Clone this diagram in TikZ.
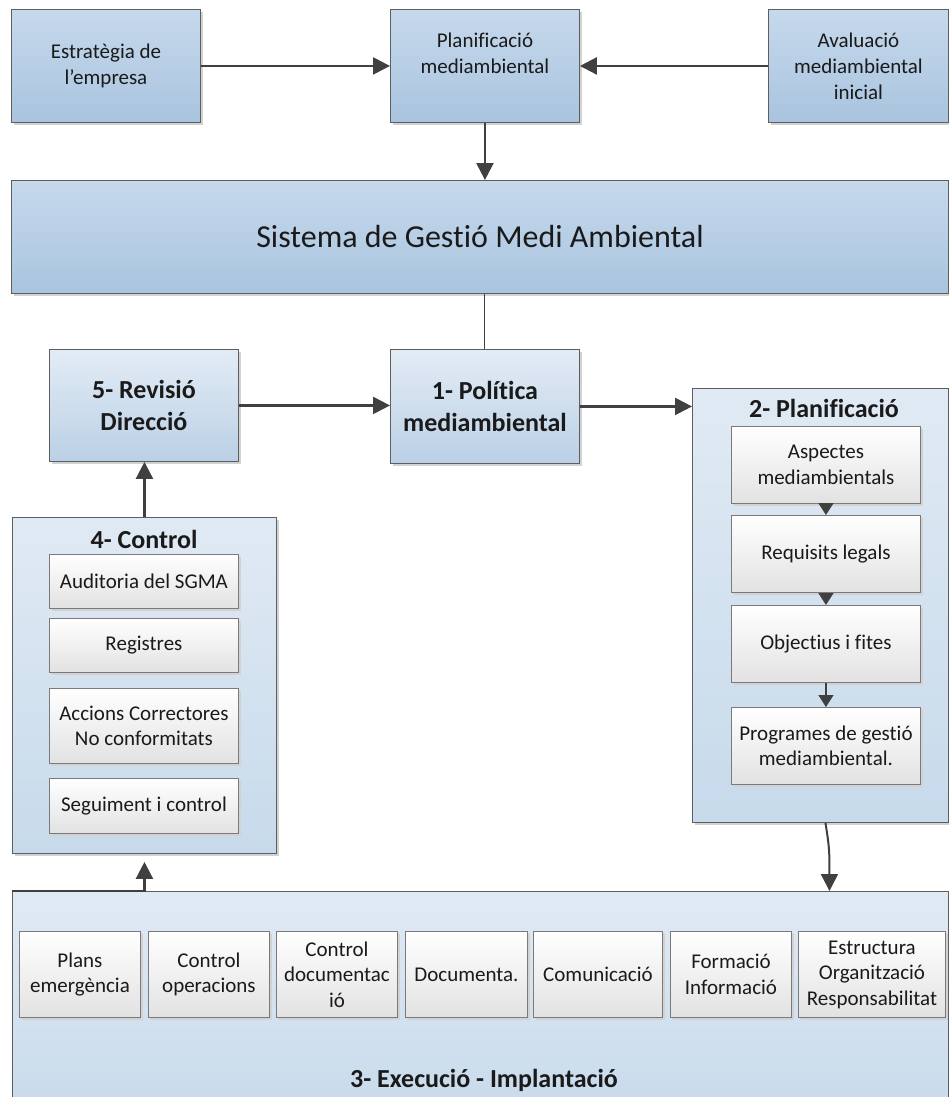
\documentclass[tikz,border=0pt]{standalone}
\usepackage{fontspec}
\setmainfont{Carlito}[Ligatures=NoCommon]
\usetikzlibrary{arrows.meta,shadows,calc}

\definecolor{edge}{HTML}{5E5E5E}
\definecolor{itemedge}{HTML}{7A7A7A}
\definecolor{arrowc}{HTML}{404040}
\definecolor{txt}{HTML}{1A1A1A}
\definecolor{topA}{HTML}{C6D9EC}
\definecolor{topB}{HTML}{A9C4DF}
\definecolor{stA}{HTML}{E3ECF5}
\definecolor{stB}{HTML}{BAD0E6}
\definecolor{grA}{HTML}{E0EAF4}
\definecolor{grB}{HTML}{C7DAEB}
\definecolor{itB}{HTML}{E2E2E2}
\definecolor{shade}{HTML}{D2D2D2}

\tikzset{
  base/.style={draw=edge, line width=0.9pt, inner sep=1pt, align=center, text=txt,
    drop shadow={shadow xshift=3pt, shadow yshift=-3pt, fill=shade, opacity=1}},
  topbox/.style={base, top color=topA, bottom color=topB,
    font=\fontsize{21}{26}\selectfont},
  bigbox/.style={base, top color=topA, bottom color=topB,
    font=\fontsize{32}{38}\selectfont},
  stagebox/.style={base, top color=stA, bottom color=stB,
    font=\fontsize{26}{32}\selectfont\bfseries},
  groupbox/.style={base, top color=grA, bottom color=grB},
  itembox/.style={base, draw=itemedge, top color=white, bottom color=itB,
    drop shadow={shadow xshift=2pt, shadow yshift=-2pt, fill=shade, opacity=0.8},
    font=\fontsize{21}{25.5}\selectfont},
  grouptitle/.style={font=\fontsize{26}{32}\selectfont\bfseries, text=txt, inner sep=0pt},
  arr/.style={draw=arrowc, line width=2.3pt, -{Triangle[length=17pt,width=17pt]}},
  thinarr/.style={draw=arrowc, line width=1.6pt, -{Triangle[length=12pt,width=15pt]}},
  link/.style={draw=arrowc, line width=1pt},
}

% box given by its top-left and bottom-right corners
\newcommand\boxat[7]{%
  \node[#1, anchor=north west, minimum width={(#5-#3)*1pt},
        minimum height={(#6-#4)*1pt}] (#2) at (#3,#4) {#7};}

\begin{document}
\begin{tikzpicture}[x=1pt, y=-1pt]
\clip (0,0) rectangle (949,1097);
\fill[white] (0,0) rectangle (949,1097);

% top row
\boxat{topbox}{estr}{11}{9}{200}{122}{Estratègia de\\l’empresa}
\boxat{topbox}{plan}{390}{9}{579}{122}{Planificació\\mediambiental\\\mbox{}}
\boxat{topbox}{aval}{768}{9}{948}{122}{Avaluació\\mediambiental\\inicial}

% management system bar
\boxat{bigbox}{sist}{11}{180}{948}{293}{Sistema de Gestió Medi Ambiental}

% stages
\boxat{stagebox}{rev}{49}{349}{238}{461}{5- Revisió\\Direcció}
\boxat{stagebox}{pol}{390}{349}{579}{463}{1- Política\\mediambiental}

% 2- Planificació
\boxat{groupbox}{plantwo}{692}{388}{948}{822}{}
\node[grouptitle] (plantwot) at (824,408) {2- Planificació};
\boxat{itembox}{asp}{731}{426}{920}{503}{Aspectes\\mediambientals}
\boxat{itembox}{req}{731}{515}{920}{592}{Requisits legals}
\boxat{itembox}{obj}{731}{605}{920}{682}{Objectius i fites}
\boxat{itembox}{prog}{731}{707}{920}{784}{Programes de gestió\\mediambiental.}

% 4- Control
\boxat{groupbox}{ctrl}{12}{517}{276}{853}{}
\node[grouptitle] (ctrlt) at (144,539) {4- Control};
\boxat{itembox}{aud}{49}{554}{238}{608}{Auditoria del SGMA}
\boxat{itembox}{regs}{49}{618}{238}{672}{Registres}
\boxat{itembox}{acc}{49}{688}{238}{763}{Accions Correctores\\No conformitats}
\boxat{itembox}{seg}{49}{778}{238}{833}{Seguiment i control}

% 3- Execució - Implantació
\boxat{groupbox}{exec}{12}{891}{948}{1120}{}
\node[grouptitle] (exect) at (484,1080) {3- Execució - Implantació};
\boxat{itembox}{e1}{19}{931}{140}{1017}{Plans\\emergència}
\boxat{itembox}{e2}{148}{931}{269}{1017}{Control\\operacions}
\boxat{itembox}{e3}{276}{931}{397}{1017}{Control\\documentac\\ió}
\boxat{itembox}{e4}{405}{931}{527}{1017}{Documenta.}
\boxat{itembox}{e5}{533}{931}{662}{1017}{Comunicació}
\boxat{itembox}{e6}{670}{931}{791}{1017}{Formació\\Informació}
\boxat{itembox}{e7}{798}{931}{945}{1017}{Estructura\\Organització\\Responsabilitat}

% connectors
\draw[arr] (estr) -- (plan);
\draw[arr] (aval) -- (plan);
\draw[arr] (plan.south) -- (plan.south |- sist.north);
\draw[link] (pol.north |- sist.south) -- (pol.north);
\draw[arr] (rev.east) -- (rev.east -| pol.west);
\draw[arr] (pol.east) -- (pol.east -| plantwo.west);
\draw[arr] (ctrl.north) -- (ctrl.north |- rev.south);

\draw[thinarr] (asp.south) -- (req.north);
\draw[thinarr] (req.south) -- (obj.north);
\draw[thinarr] (obj.south) -- (prog.north);

\path (plantwo.south) ++(5,0) coordinate (ptout);
\path (ptout |- exec.north) ++(4,0) coordinate (ptin);
\draw[arr, line width=2pt] (ptout) .. controls ($(ptout)+(4,25)$) and ($(ptin)+(0,-40)$) .. (ptin);

\draw[arr] (exec.north west) -| ([yshift=-8pt]ctrl.south);
\end{tikzpicture}
\end{document}
